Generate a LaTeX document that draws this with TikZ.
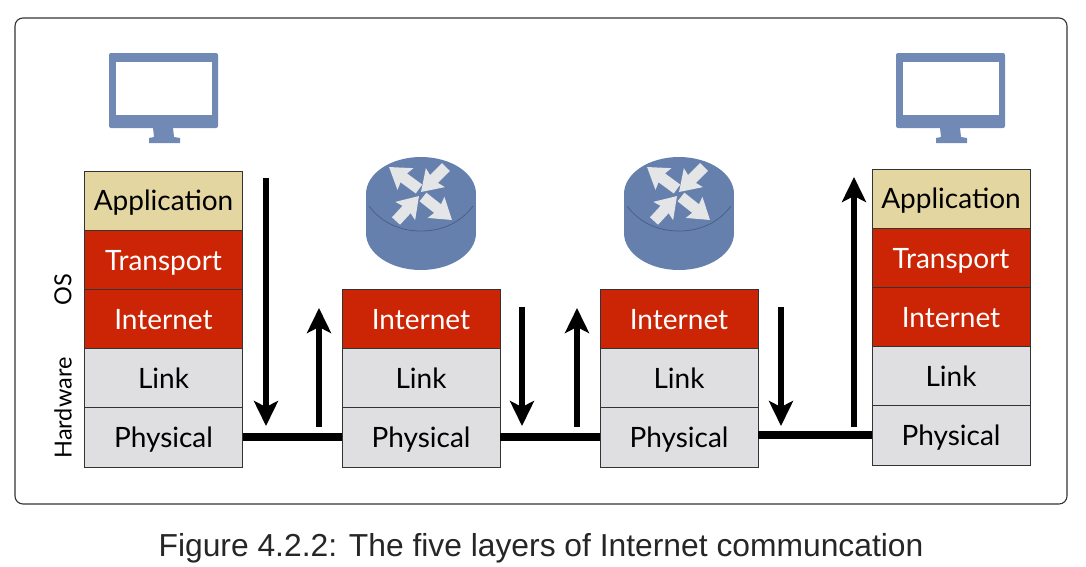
\documentclass[tikz,border=0pt]{standalone}
\usepackage{xcolor}
\usepackage{fontspec}
\setmainfont{Lato}
\newfontfamily\capfont{Liberation Sans}
\usetikzlibrary{arrows.meta,positioning}
\definecolor{appyellow}{HTML}{E4D6A0}
\definecolor{netred}{HTML}{CC2505}
\definecolor{hwgray}{HTML}{DFDFE1}
\definecolor{iconblue}{HTML}{7189B5}
\definecolor{routerblue}{HTML}{6680AE}
\definecolor{routeredge}{HTML}{4A5F85}
\definecolor{tipgray}{HTML}{E3E5E6}
\definecolor{linegray}{HTML}{333333}

\begin{document}
\begin{tikzpicture}[
  x=1pt, y=-1pt,
  layer/.style={rectangle, draw=linegray, line width=0.9pt, outer sep=0pt, minimum width=158pt, minimum height=59.2pt, inner sep=0pt, text height=20.5pt, text depth=0pt, font=\fontsize{28}{32}\selectfont},
  app/.style={layer, fill=appyellow, text=black},
  red/.style={layer, fill=netred, text=white},
  hw/.style={layer, fill=hwgray, text=black},
  cable/.style={line width=8pt, draw=black},
  hop/.style={-{Stealth[length=25pt,width=24pt,inset=6pt]}, line width=5.5pt, draw=black},
  side/.style={rotate=90, font=\fontsize{23.5}{26}\selectfont, text=black},
  spin/.style={-{Stealth[length=20pt,width=26pt,inset=3pt]}, line width=11pt, draw=tipgray},
  monitor/.pic={
    \fill[iconblue, rounded corners=2pt] (-55,-45) rectangle (54,30);
    \fill[white] (-48,-36) rectangle (48,17);
    \fill[iconblue] (-11,30) -- (9,30) -- (10,39) -- (16,40) -- (16,45) -- (-15,45) -- (-15,40) -- (-10,39) -- cycle;
  },
  router/.pic={
    \fill[routerblue] (-55,0) rectangle (55,39);
    \fill[routerblue] (0,39) ellipse [x radius=55, y radius=37];
    \fill[routerblue] (0,0) ellipse [x radius=55, y radius=37];
    \draw[routeredge, line width=0.8pt] (-52,12) .. controls (-40,28) and (-22,37) .. (0,37) .. controls (22,37) and (40,28) .. (52,12);
    \draw[spin] (-2,-5) -- (-32,-27);
    \draw[spin] (25,-27) -- (0,-2);
    \draw[spin] (-25,27) -- (-2,2);
    \draw[spin] (2,3) -- (31,26);
  }
]
  \useasboundingbox (0,0) rectangle (1086,566);
  \node[draw=linegray, line width=1.1pt, rounded corners=8pt, minimum width=1052pt, minimum height=486pt, outer sep=0pt] (frame) at (541,261) {};

  \pic at (164,98) {monitor};
  \pic at (951,98) {monitor};
  \pic at (421,194) {router};
  \pic at (679,194) {router};

  % left host
  \node[app] (app1) at (163.5,200.6) {Application};
  \node[red, below=0pt of app1] (trans1) {Transport};
  \node[red, below=0pt of trans1] (inet1) {Internet};
  \node[hw, below=0pt of inet1] (link1) {Link};
  \node[hw, below=0pt of link1] (phys1) {Physical};

  % routers
  \node[red] (inet2) at (421,319) {Internet};
  \node[hw, below=0pt of inet2] (link2) {Link};
  \node[hw, below=0pt of link2] (phys2) {Physical};
  \node[red] (inet3) at (679,319) {Internet};
  \node[hw, below=0pt of inet3] (link3) {Link};
  \node[hw, below=0pt of link3] (phys3) {Physical};

  % right host
  \node[app] (app4) at (951,198.6) {Application};
  \node[red, below=0pt of app4] (trans4) {Transport};
  \node[red, below=0pt of trans4] (inet4) {Internet};
  \node[hw, below=0pt of inet4] (link4) {Link};
  \node[hw, below=0pt of link4] (phys4) {Physical};

  \node[side] (os) at (63,290) {OS};
  \node[side] (hardware) at (63,408) {Hardware};

  \draw[cable] (phys1.east) -- (phys1.east -| phys2.west);
  \draw[cable] (phys2.east) -- (phys2.east -| phys3.west);
  \draw[cable] (phys3.east |- phys4.west) -- (phys4.west);

  \coordinate (d1a) at (266,178);
  \coordinate (d1b) at (266,426);
  \coordinate (u2a) at (319,427);
  \coordinate (u2b) at (319,308);
  \coordinate (d2a) at (522,307);
  \coordinate (d2b) at (522,426);
  \coordinate (u3a) at (577,427);
  \coordinate (u3b) at (577,308);
  \coordinate (d3a) at (781,307);
  \coordinate (d3b) at (781,426);
  \coordinate (u4a) at (854,427);
  \coordinate (u4b) at (854,177);
  \draw[hop] (d1a) -- (d1b);
  \draw[hop] (u2a) -- (u2b);
  \draw[hop] (d2a) -- (d2b);
  \draw[hop] (u3a) -- (u3b);
  \draw[hop] (d3a) -- (d3b);
  \draw[hop] (u4a) -- (u4b);

  \node[font=\capfont\fontsize{31.8}{36}\selectfont, text=black!85, inner sep=0pt] (caption) at (541,548) {Figure 4.2.2: The five layers of Internet communcation};
\end{tikzpicture}
\end{document}
